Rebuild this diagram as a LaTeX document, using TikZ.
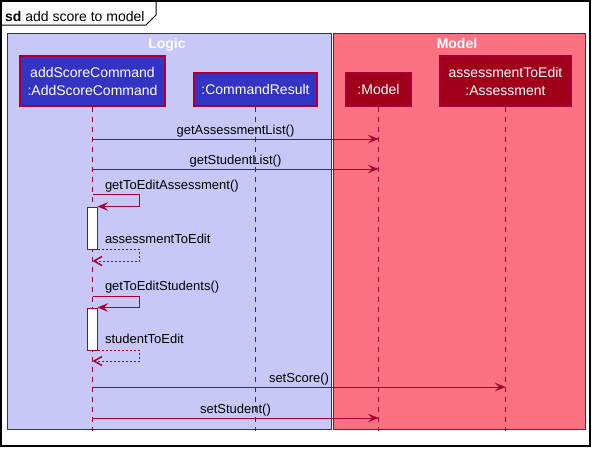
\documentclass[tikz,border=0pt]{standalone}
\usepackage{fontspec}
\setmainfont{Liberation Sans}
\usetikzlibrary{arrows.meta}

\definecolor{plumred}{HTML}{A80036}
\definecolor{logicbg}{HTML}{C8C8F8}
\definecolor{modelbg}{HTML}{FA7282}
\definecolor{logicpart}{HTML}{3434C4}
\definecolor{modelpart}{HTML}{A0001A}

\tikzset{
  group/.style={draw=plumred, line width=1pt},
  grouptitle/.style={text=white, font=\fontsize{14}{17}\selectfont\bfseries, anchor=base},
  part/.style={draw=plumred, line width=1.2pt, text=white, align=center, inner sep=0pt,
    font=\fontsize{14}{18}\selectfont},
  lifeline/.style={draw=plumred, line width=1pt, dash pattern=on 5pt off 5pt},
  actbox/.style={draw=plumred, fill=white, line width=1pt, minimum width=10pt, inner sep=0pt},
  msg/.style={draw=plumred, line width=1pt, -{Stealth[length=10.5pt, width=8.5pt, inset=4pt]}},
  ret/.style={draw=plumred, line width=1pt, dash pattern=on 2pt off 2pt,
    -{Straight Barb[length=8pt, width=9pt, line width=1.5pt]}},
  msglabel/.style={font=\fontsize{13}{16}\selectfont, text=black, inner sep=0pt},
}

\begin{document}
\begin{tikzpicture}[x=1pt, y=-1pt]
  \useasboundingbox[fill=white] (0,0) rectangle (595,451);

  % diagram frame with its name tab
  \draw[black, line width=1.5pt] (1,1) rectangle (590,446);
  \draw[black, line width=1pt] (1,25) -- (146,25) -- (156,15) -- (156,1);
  \node[anchor=base west, inner sep=0pt, font=\fontsize{14}{17}\selectfont] (title) at (5,21)
    {\textbf{sd} add score to model};

  % component groups
  \draw[group, fill=logicbg] (7,33) rectangle (331,429);
  \draw[group, fill=modelbg] (333,33) rectangle (585,429);
  \node[grouptitle] (logicT) at (167,48) {Logic};
  \node[grouptitle] (modelT) at (457,48) {Model};

  % participants
  \node[part, fill=logicpart, minimum width=145pt, minimum height=50pt] (asc) at (92.5,81)
    {addScoreCommand\\:AddScoreCommand};
  \node[part, fill=logicpart, minimum width=123pt, minimum height=33pt] (cr) at (255.5,89.5)
    {:CommandResult};
  \node[part, fill=modelpart, minimum width=65pt, minimum height=33pt] (mdl) at (378.5,89.5)
    {:Model};
  \node[part, fill=modelpart, minimum width=131pt, minimum height=50pt] (ass) at (505.5,81)
    {assessmentToEdit\\:Assessment};

  % lifelines
  \coordinate (ascEnd) at (asc.south |- 0,431);
  \coordinate (crEnd)  at (cr.south  |- 0,431);
  \coordinate (mdlEnd) at (mdl.south |- 0,431);
  \coordinate (assEnd) at (ass.south |- 0,431);
  \draw[lifeline] (asc.south) -- (ascEnd);
  \draw[lifeline] (cr.south)  -- (crEnd);
  \draw[lifeline] (mdl.south) -- (mdlEnd);
  \draw[lifeline] (ass.south) -- (assEnd);

  % activation bars on the command lifeline
  \node[actbox, minimum height=42pt] (act1) at (92,228) {};
  \node[actbox, minimum height=42pt] (act2) at (92,329) {};

  % messages
  \draw[msg] (asc.south |- 0,139) -- node[msglabel, midway, anchor=base, yshift=5pt] (m1) {getAssessmentList()} (mdl.south |- 0,139);
  \draw[msg] (asc.south |- 0,169) -- node[msglabel, midway, anchor=base, yshift=5pt] (m2) {getStudentList()} (mdl.south |- 0,169);

  \draw[msg] (asc.south |- 0,194) -- node[msglabel, pos=0, anchor=base west, xshift=12pt, yshift=5pt] (m3) {getToEditAssessment()} ++(47,0) |- (act1.north east);
  \draw[ret] (act1.south east) -- node[msglabel, pos=0, anchor=base west, xshift=7pt, yshift=6pt] (r1) {assessmentToEdit} ++(42,0) |- (asc.south |- 0,261);

  \draw[msg] (asc.south |- 0,296) -- node[msglabel, pos=0, anchor=base west, xshift=12pt, yshift=6pt] (m4) {getToEditStudents()} ++(47,0) |- (act2.north east);
  \draw[ret] (act2.south east) -- node[msglabel, pos=0, anchor=base west, xshift=7pt, yshift=7pt] (r2) {studentToEdit} ++(42,0) |- (asc.south |- 0,361);

  \draw[msg] (asc.south |- 0,387) -- node[msglabel, midway, anchor=base, yshift=5pt] (m5) {setScore()} (ass.south |- 0,387);
  \draw[msg] (asc.south |- 0,418) -- node[msglabel, midway, anchor=base, yshift=5pt] (m6) {setStudent()} (mdl.south |- 0,418);
\end{tikzpicture}
\end{document}
